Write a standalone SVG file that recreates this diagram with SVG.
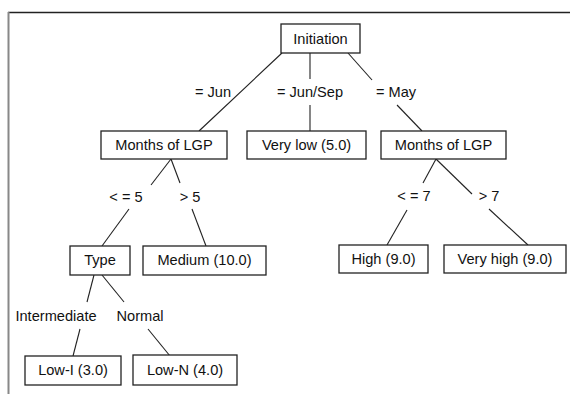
<svg xmlns="http://www.w3.org/2000/svg" width="570" height="394" viewBox="0 0 570 394">
<style>
.box{fill:#fff;stroke:#222;stroke-width:1.3}
.t{font-family:"Liberation Sans",Arial,sans-serif;font-size:14.6px;fill:#111;text-anchor:middle}
.e{stroke:#222;stroke-width:1.1;fill:none}
</style>
<rect x="0" y="0" width="570" height="394" fill="#fff"/>
<line x1="8" y1="12.5" x2="570" y2="12.5" stroke="#222" stroke-width="1.3"/>
<line x1="8.5" y1="12" x2="8.5" y2="394" stroke="#888" stroke-width="2"/>
<g id="connectors">
<line class="e" x1="282" y1="53" x2="199" y2="131"/>
<line class="e" x1="310" y1="53" x2="310" y2="79"/>
<line class="e" x1="310" y1="105" x2="310" y2="131"/>
<line class="e" x1="348" y1="53" x2="372" y2="80"/>
<line class="e" x1="397" y1="105" x2="422" y2="131"/>
<line class="e" x1="171" y1="159" x2="151" y2="185"/>
<line class="e" x1="129" y1="209" x2="102" y2="246"/>
<line class="e" x1="171" y1="159" x2="180" y2="183"/>
<line class="e" x1="192" y1="209" x2="206" y2="246"/>
<line class="e" x1="94" y1="275" x2="87" y2="302"/>
<line class="e" x1="80" y1="329" x2="73" y2="356"/>
<line class="e" x1="102" y1="275" x2="124" y2="302"/>
<line class="e" x1="148" y1="329" x2="170" y2="356"/>
<line class="e" x1="436" y1="159" x2="423" y2="183"/>
<line class="e" x1="407" y1="210" x2="387" y2="245"/>
<line class="e" x1="436" y1="159" x2="472" y2="194"/>
<line class="e" x1="489" y1="209" x2="528" y2="245"/>
<text class="t" x="213" y="97">= Jun</text>
<text class="t" x="310" y="97">= Jun/Sep</text>
<text class="t" x="396" y="97">= May</text>
<text class="t" x="126" y="202">&lt; = 5</text>
<text class="t" x="190" y="202">&gt; 5</text>
<text class="t" x="414" y="201">&lt; = 7</text>
<text class="t" x="489" y="201">&gt; 7</text>
<text class="t" x="56" y="321">Intermediate</text>
<text class="t" x="140" y="321">Normal</text>
</g>
<g id="n-initiation"><rect class="box" x="281" y="24" width="79" height="29"/><text class="t" x="320.5" y="43.5">Initiation</text></g>
<g id="n-months1"><rect class="box" x="101" y="131" width="126" height="28"/><text class="t" x="164" y="150">Months of LGP</text></g>
<g id="n-verylow"><rect class="box" x="247" y="131" width="119" height="28"/><text class="t" x="306.5" y="150">Very low (5.0)</text></g>
<g id="n-months2"><rect class="box" x="381" y="131" width="125" height="28"/><text class="t" x="443.5" y="150">Months of LGP</text></g>
<g id="n-type"><rect class="box" x="70" y="246" width="60" height="29"/><text class="t" x="100" y="265">Type</text></g>
<g id="n-medium"><rect class="box" x="143" y="246" width="123" height="29"/><text class="t" x="204.5" y="265">Medium (10.0)</text></g>
<g id="n-high"><rect class="box" x="339" y="245" width="89" height="28"/><text class="t" x="383.5" y="264">High (9.0)</text></g>
<g id="n-veryhigh"><rect class="box" x="444" y="245" width="122" height="28"/><text class="t" x="505" y="264">Very high (9.0)</text></g>
<g id="n-lowi"><rect class="box" x="25" y="356" width="96" height="29"/><text class="t" x="73" y="375">Low-I (3.0)</text></g>
<g id="n-lown"><rect class="box" x="133" y="355" width="104" height="30"/><text class="t" x="185" y="375">Low-N (4.0)</text></g>
</svg>
